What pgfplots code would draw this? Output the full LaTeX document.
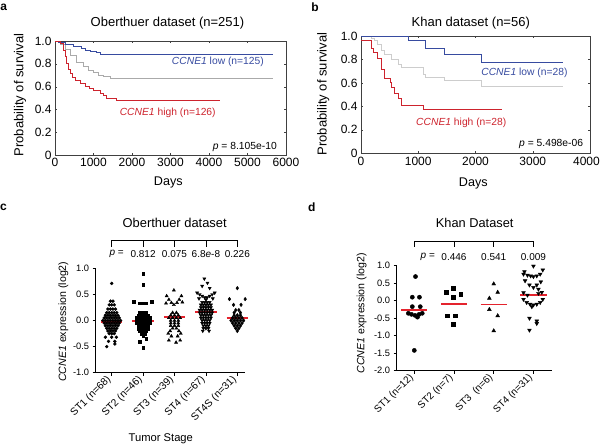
\documentclass[border=0pt]{standalone}
\usepackage{fontspec}
\setmainfont{Liberation Sans}
\usepackage{pgfplots}
\pgfplotsset{compat=1.18}
\usepackage{pgfplotstable}
\newcommand{\fs}[1]{\fontsize{#1}{#1}\selectfont}
\definecolor{kmblue}{RGB}{55,75,160}
\definecolor{kmred}{RGB}{205,35,45}
\definecolor{kmgray}{RGB}{170,170,170}
\definecolor{kmgrayb}{RGB}{205,205,205}
\definecolor{meanred}{RGB}{228,35,45}
\pgfplotsset{/pgf/number format/assume math mode=true}

% ---------- panel c data (offset from category, value) ----------
\pgfplotstableread{
o v
0 0.71
-0.04 0.37
0.04 0.37
-0.08 0.30
0 0.30
0.08 0.30
-0.12 0.22
-0.04 0.22
0.04 0.22
0.12 0.22
-0.16 0.15
-0.08 0.15
0 0.15
0.08 0.15
0.16 0.15
-0.2 0.10
-0.12 0.10
-0.04 0.10
0.04 0.10
0.12 0.10
0.2 0.10
-0.24 0.05
-0.16 0.05
-0.08 0.05
0 0.05
0.08 0.05
0.16 0.05
0.24 0.05
-0.28 0.0
-0.2 0.0
-0.12 0.0
-0.04 0.0
0.04 0.0
0.12 0.0
0.2 0.0
0.28 0.0
-0.24 -0.05
-0.16 -0.05
-0.08 -0.05
0 -0.05
0.08 -0.05
0.16 -0.05
0.24 -0.05
-0.2 -0.10
-0.12 -0.10
-0.04 -0.10
0.04 -0.10
0.12 -0.10
0.2 -0.10
-0.16 -0.15
-0.08 -0.15
0 -0.15
0.08 -0.15
0.16 -0.15
-0.12 -0.20
-0.04 -0.20
0.04 -0.20
0.12 -0.20
-0.08 -0.25
0 -0.25
0.08 -0.25
-0.2 -0.32
0 -0.32
0.15 -0.32
-0.1 -0.40
0.1 -0.40
0.1 -0.45
-0.16 -0.50
}\cA
\pgfplotstableread{
o v
0 0.89
0 0.68
-0.3 0.36
0.28 0.36
-0.1 0.33
0 0.33
0.1 0.33
-0.1 0.15
0 0.15
0.1 0.15
-0.15 0.10
-0.05 0.10
0.05 0.10
0.15 0.10
-0.2 0.05
-0.1 0.05
0 0.05
0.1 0.05
0.2 0.05
-0.2 0.0
-0.1 0.0
0 0.0
0.1 0.0
0.2 0.0
-0.2 -0.05
-0.1 -0.05
0 -0.05
0.1 -0.05
0.2 -0.05
-0.15 -0.10
-0.05 -0.10
0.05 -0.10
0.15 -0.10
-0.15 -0.15
-0.05 -0.15
0.05 -0.15
0.15 -0.15
-0.1 -0.20
0 -0.20
0.1 -0.20
-0.05 -0.25
0.05 -0.25
0 -0.30
0.1 -0.35
-0.1 -0.40
0 -0.52
}\cB
\pgfplotstableread{
o v
-0.02 0.58
-0.25 0.47
0.22 0.47
-0.18 0.40
0.15 0.40
-0.1 0.34
0.08 0.34
-0.02 0.30
-0.27 0.33
0.25 0.35
-0.06 0.15
0.06 0.15
-0.12 0.10
0 0.10
0.12 0.10
-0.18 0.05
-0.06 0.05
0.06 0.05
0.18 0.05
-0.12 0.0
0 0.0
0.12 0.0
-0.12 -0.05
0 -0.05
0.12 -0.05
-0.12 -0.10
0 -0.10
0.12 -0.10
-0.06 -0.15
0.06 -0.15
-0.14 -0.20
0.14 -0.20
-0.2 -0.25
0.2 -0.25
-0.1 -0.30
0.1 -0.30
-0.18 -0.38
0.18 -0.38
0.05 -0.42
}\cC
\pgfplotstableread{
o v
-0.05 0.80
0.05 0.72
-0.12 0.66
0.12 0.62
-0.28 0.53
-0.2 0.50
-0.12 0.47
-0.04 0.44
0.04 0.44
0.12 0.47
0.2 0.50
0.28 0.53
-0.22 0.42
0.22 0.42
0 0.40
-0.12 0.35
-0.04 0.35
0.04 0.35
0.12 0.35
-0.16 0.30
-0.08 0.30
0 0.30
0.08 0.30
0.16 0.30
-0.16 0.25
-0.08 0.25
0 0.25
0.08 0.25
0.16 0.25
-0.2 0.20
-0.12 0.20
-0.04 0.20
0.04 0.20
0.12 0.20
0.2 0.20
-0.2 0.15
-0.12 0.15
-0.04 0.15
0.04 0.15
0.12 0.15
0.2 0.15
-0.16 0.10
-0.08 0.10
0 0.10
0.08 0.10
0.16 0.10
-0.16 0.05
-0.08 0.05
0 0.05
0.08 0.05
0.16 0.05
-0.12 0.0
-0.04 0.0
0.04 0.0
0.12 0.0
-0.12 -0.05
-0.04 -0.05
0.04 -0.05
0.12 -0.05
-0.08 -0.10
0 -0.10
0.08 -0.10
-0.08 -0.15
0 -0.15
0.08 -0.15
-0.1 -0.20
0.1 -0.20
}\cD
\pgfplotstableread{
o v
0 0.62
-0.25 0.41
0.25 0.41
-0.12 0.30
0.12 0.30
-0.05 0.2
0.05 0.2
-0.1 0.15
0.1 0.15
-0.1 0.1
0 0.1
0.1 0.1
-0.15 0.05
-0.05 0.05
0.05 0.05
0.15 0.05
-0.2 0.0
-0.1 0.0
0 0.0
0.1 0.0
0.2 0.0
-0.15 -0.05
-0.05 -0.05
0.05 -0.05
0.15 -0.05
-0.1 -0.1
0 -0.1
0.1 -0.1
-0.05 -0.15
0.05 -0.15
0 -0.2
}\cE
% ---------- panel d data ----------
\pgfplotstableread{
o v
0.03 0.69
-0.05 0.10
0.13 0.10
-0.05 -0.17
0.15 -0.17
-0.15 -0.36
-0.07 -0.39
0.02 -0.42
0.12 -0.39
0.2 -0.36
0.08 -0.47
0 -1.42
}\dA
\pgfplotstableread{
o v
-0.2 0.25
-0.03 0.35
0.17 0.18
-0.03 0.10
-0.18 -0.43
0.03 -0.43
-0.02 -0.67
}\dB
\pgfplotstableread{
o v
0 0.48
0.1 0.24
-0.11 0.07
-0.11 -0.25
0.1 -0.43
0 -0.86
}\dC
\pgfplotstableread{
o v
0 0.99
0.235 0.88
-0.227 0.83
-0.25 0.76
-0.15 0.73
-0.07 0.71
0 0.69
0.084 0.71
0.17 0.76
-0.21 0.57
0.185 0.54
-0.1 0.45
0.084 0.45
0 0.38
0.126 0.33
0.21 0.24
-0.25 0.23
-0.15 0.16
0.126 0.21
-0.25 0.04
-0.17 -0.05
-0.084 -0.10
0 -0.12
0.084 -0.10
0.17 -0.05
0.235 0.04
-0.04 -0.17
-0.1 -0.50
0.084 -0.58
0.084 -0.65
-0.1 -0.84
}\dD

\begin{document}
\begin{tikzpicture}[x=1pt,y=1pt]
\path[use as bounding box] (0,0) rectangle (600,-445);

% ===================== panel a =====================
\begin{axis}[
  at={(55pt,-155pt)}, anchor=south west, scale only axis,
  width=231pt, height=114pt,
  xmin=0, xmax=6000, ymin=0, ymax=1,
  xtick={0,1000,2000,3000,4000,5000,6000},
  xticklabels={0,1000,2000,3000,4000,5000,6000},
  ytick={0,0.2,0.4,0.6,0.8,1.0},
  yticklabels={0,0.2,0.4,0.6,0.8,1.0},
  tick label style={font=\fs{12}},
  axis line style={black!75, line width=0.6pt},
  tick style={black!75}, major tick length=2pt, tick align=inside,
  clip=false,
]
\addplot[const plot, kmgray, line width=0.9pt] coordinates {
 (0,1)(150,0.97)(260,0.93)(390,0.875)(565,0.816)(740,0.773)(870,0.745)(1000,0.72)(1130,0.70)(1260,0.685)(1435,0.67)(5650,0.67)};
\addplot[const plot, kmblue, line width=1pt] coordinates {
 (0,1)(100,0.99)(260,0.97)(475,0.955)(690,0.93)(800,0.92)(910,0.91)(1080,0.895)(1170,0.884)(5650,0.884)};
\addplot[const plot, kmred, line width=1pt] coordinates {
 (0,1)(130,0.98)(217,0.92)(260,0.86)(304,0.80)(350,0.75)(391,0.715)(450,0.68)(522,0.656)(652,0.627)(800,0.60)(900,0.585)(1000,0.57)(1170,0.54)(1260,0.52)(1340,0.50)(1600,0.478)(1700,0.475)(4280,0.475)};
\node[anchor=east, text=kmblue, font=\fs{10.3}, inner sep=0pt] at (axis cs:5430,0.816) {\textit{CCNE1} low (n=125)};
\node[anchor=west, text=kmred, font=\fs{10.3}, inner sep=0pt] at (axis cs:1677,0.373) {\textit{CCNE1} high (n=126)};
\node[anchor=east, font=\fs{10.3}, inner sep=0pt] at (axis cs:5765,0.073) {\textit{p} = 8.105e-10};
\end{axis}

% ===================== panel b =====================
\begin{axis}[
  at={(361pt,-153.3pt)}, anchor=south west, scale only axis,
  width=229pt, height=117.3pt,
  xmin=0, xmax=4000, ymin=0, ymax=1,
  xtick={0,1000,2000,3000,4000},
  xticklabels={0,1000,2000,3000,\hspace*{-7pt}4000},
  ytick={0,0.2,0.4,0.6,0.8,1.0},
  yticklabels={0,0.2,0.4,0.6,0.8,1.0},
  tick label style={font=\fs{12}},
  axis line style={black!75, line width=0.6pt},
  tick style={black!75}, major tick length=2pt, tick align=inside,
  clip=false,
]
\addplot[const plot, kmgrayb, line width=0.9pt] coordinates {
 (0,1)(175,0.98)(227,0.96)(291,0.93)(361,0.875)(407,0.84)(524,0.80)(652,0.76)(710,0.73)(1089,0.67)(1118,0.645)(1455,0.625)(2108,0.57)(3530,0.57)};
\addplot[const plot, kmblue, line width=1pt] coordinates {
 (0,1)(830,0.964)(1118,0.893)(1455,0.846)(2108,0.77)(3530,0.77)};
\addplot[const plot, kmred, line width=1pt] coordinates {
 (0,0.964)(175,0.893)(227,0.857)(291,0.81)(361,0.714)(407,0.64)(507,0.60)(524,0.557)(582,0.514)(652,0.47)(710,0.406)(1089,0.372)(2460,0.372)};
\node[anchor=east, text=kmblue, font=\fs{10.3}, inner sep=0pt] at (axis cs:3610,0.69) {\textit{CCNE1} low (n=28)};
\node[anchor=west, text=kmred, font=\fs{10.3}, inner sep=0pt] at (axis cs:961,0.264) {\textit{CCNE1} high (n=28)};
\node[anchor=east, font=\fs{10.3}, inner sep=0pt] at (axis cs:3883,0.077) {\textit{p} = 5.498e-06};
\end{axis}

% ===================== panel c =====================
\begin{axis}[
  at={(95.7pt,-372.7pt)}, anchor=south west, scale only axis,
  width=149.3pt, height=104.4pt,
  xmin=0.49, xmax=5.245, ymin=-1, ymax=1,
  axis x line*=bottom, axis y line*=left,
  axis line style={black, line width=0.7pt},
  xtick={1,2,3,4,5},
  xticklabels={ST1 (n=68),ST2 (n=46),ST3 (n=39),ST4 (n=67),ST4S (n=31)},
  xticklabel style={rotate=45, anchor=east, font=\fs{10.3}},
  ytick={-1,-0.5,0,0.5,1},
  yticklabels={-1.0,-0.5,0.0,0.5,1.0},
  yticklabel style={font=\fs{9.3}},
  tick style={black, line width=0.7pt}, tick align=outside, major tick length=3pt,
  clip=false,
]
\addplot[only marks, mark=*, mark size=1.5pt, black] table[x expr=\thisrow{o}+1, y=v] {\cA};
\addplot[only marks, mark=square*, mark size=1.4pt, black] table[x expr=\thisrow{o}+2, y=v] {\cB};
\addplot[only marks, mark=triangle*, mark size=1.8pt, black] table[x expr=\thisrow{o}+3, y=v] {\cC};
\addplot[only marks, mark=triangle*, mark size=1.8pt, mark options={rotate=180}, black] table[x expr=\thisrow{o}+4, y=v] {\cD};
\addplot[only marks, mark=diamond*, mark size=1.8pt, black] table[x expr=\thisrow{o}+5, y=v] {\cE};
\addplot[meanred, line width=2pt] coordinates {(0.66,-0.02)(1.34,-0.02)};
\addplot[meanred, line width=2pt] coordinates {(1.66,-0.01)(2.34,-0.01)};
\addplot[meanred, line width=2pt] coordinates {(2.66,0.06)(3.34,0.06)};
\addplot[meanred, line width=2pt] coordinates {(3.66,0.17)(4.34,0.17)};
\addplot[meanred, line width=2pt] coordinates {(4.66,0.04)(5.34,0.04)};
\draw[line width=0.7pt] (axis cs:1,1.41) -- (axis cs:1,1.54) -- (axis cs:5,1.54) -- (axis cs:5,1.41);
\draw[line width=0.7pt] (axis cs:2,1.54) -- (axis cs:2,1.41);
\draw[line width=0.7pt] (axis cs:3,1.54) -- (axis cs:3,1.41);
\draw[line width=0.7pt] (axis cs:4,1.54) -- (axis cs:4,1.41);
\node[font=\fs{10}] at (axis cs:1.16,1.27) {\textit{p} =};
\node[font=\fs{10}] at (axis cs:2,1.27) {0.812};
\node[font=\fs{10}] at (axis cs:3,1.27) {0.075};
\node[font=\fs{10}] at (axis cs:4,1.27) {6.8\textit{e}-8};
\node[font=\fs{10}] at (axis cs:5,1.27) {0.226};
\end{axis}

% ===================== panel d =====================
\begin{axis}[
  at={(396.7pt,-370.7pt)}, anchor=south west, scale only axis,
  width=155pt, height=105pt,
  xmin=0.557, xmax=4.46, ymin=-2, ymax=1,
  axis x line*=bottom, axis y line*=left,
  axis line style={black, line width=0.7pt},
  xtick={1,2,3,4},
  xticklabels={ST1 (n=12),ST2 (n=7),ST3\ \ (n=6),ST4 (n=31)},
  xticklabel style={rotate=45, anchor=east, font=\fs{10}},
  ytick={-2,-1.5,-1,-0.5,0,0.5,1},
  yticklabels={-2.0,-1.5,-1.0,-0.5,0.0,0.5,1.0},
  yticklabel style={font=\fs{9.3}},
  tick style={black, line width=0.7pt}, tick align=outside, major tick length=3pt,
  clip=false,
]
\addplot[only marks, mark=*, mark size=2.1pt, black] table[x expr=\thisrow{o}+1, y=v] {\dA};
\addplot[only marks, mark=square*, mark size=1.9pt, black] table[x expr=\thisrow{o}+2, y=v] {\dB};
\addplot[only marks, mark=triangle*, mark size=2.2pt, black] table[x expr=\thisrow{o}+3, y=v] {\dC};
\addplot[only marks, mark=triangle*, mark size=2.2pt, mark options={rotate=180}, black] table[x expr=\thisrow{o}+4, y=v] {\dD};
\addplot[meanred, line width=1.6pt] coordinates {(0.67,-0.27)(1.33,-0.27)};
\addplot[meanred, line width=1.6pt] coordinates {(1.67,-0.10)(2.33,-0.10)};
\addplot[meanred, line width=1.6pt] coordinates {(2.67,-0.11)(3.33,-0.11)};
\addplot[meanred, line width=1.6pt] coordinates {(3.67,0.17)(4.33,0.17)};
\draw[line width=0.7pt] (axis cs:1,1.54) -- (axis cs:1,1.706) -- (axis cs:4,1.706) -- (axis cs:4,1.54);
\draw[line width=0.7pt] (axis cs:2,1.706) -- (axis cs:2,1.54);
\draw[line width=0.7pt] (axis cs:3,1.706) -- (axis cs:3,1.54);
\node[font=\fs{10}] at (axis cs:1.34,1.26) {\textit{p} =};
\node[font=\fs{10}] at (axis cs:2,1.26) {0.446};
\node[font=\fs{10}] at (axis cs:3,1.26) {0.541};
\node[font=\fs{10}] at (axis cs:4,1.26) {0.009};
\end{axis}

% ===================== free text =====================
\node[font=\bfseries\fs{12}] at (3.7,-7.3) {a};
\node[font=\bfseries\fs{12}] at (315,-7.5) {b};
\node[font=\bfseries\fs{12}] at (3.5,-207.3) {c};
\node[font=\bfseries\fs{12}] at (311.7,-207) {d};

\node[font=\fs{13}] at (167.5,-23.3) {Oberthuer dataset (n=251)};
\node[font=\fs{13}] at (470.8,-22.7) {Khan dataset (n=56)};
\node[font=\fs{12.6}] at (168.3,-182.7) {Days};
\node[font=\fs{12.6}] at (473.3,-183.3) {Days};
\node[font=\fs{13}, rotate=90] at (20,-95) {Probability of survival};
\node[font=\fs{13}, rotate=90] at (323.3,-94) {Probability of survival};

\node[font=\fs{12.9}] at (174.7,-223.3) {Oberthuer dataset};
\node[font=\fs{12.8}] at (474.7,-223.3) {Khan Dataset};
\node[font=\fs{10.6}, rotate=90] at (63.3,-321.7) {\textit{CCNE1} expression (log2)};
\node[font=\fs{10.6}, rotate=90] at (361.7,-313.3) {\textit{CCNE1} expression (log2)};
\node[font=\fs{11.2}] at (160.8,-438.3) {Tumor Stage};
\end{tikzpicture}
\end{document}
